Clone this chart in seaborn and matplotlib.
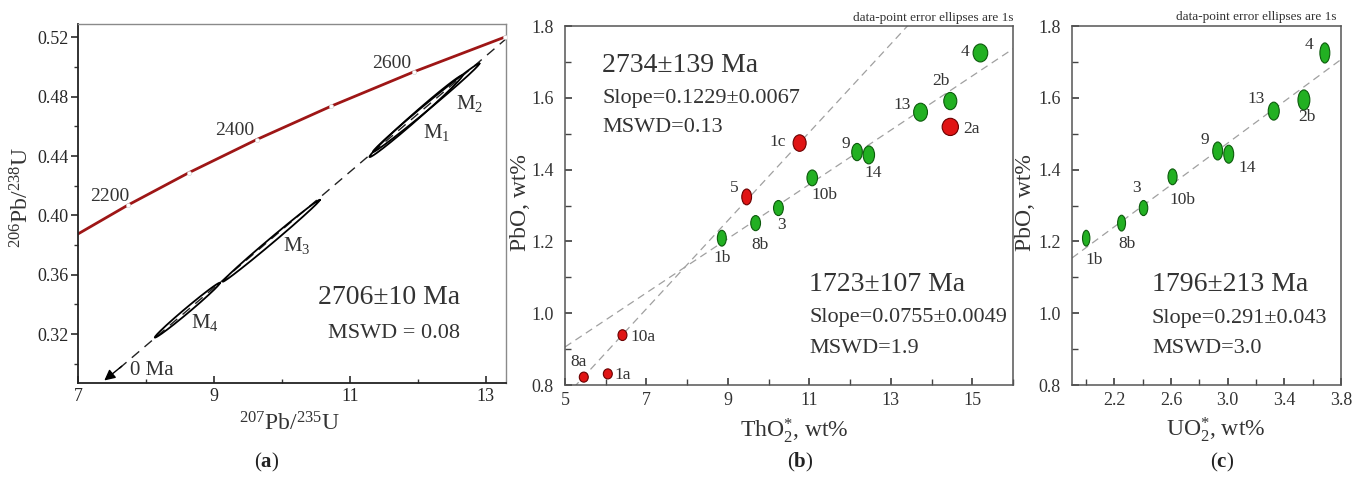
import numpy as np
import pandas as pd
import seaborn as sns
import matplotlib.pyplot as plt
from matplotlib.patches import Ellipse
from matplotlib.ticker import FixedLocator, FormatStrFormatter

# ---- (a) concordia diagram ----
conc_age = [2100, 2200, 2300, 2400, 2500, 2600, 2700, 2750]
conc_x = [6.910, 7.729, 8.633, 9.630, 10.730, 11.944, 13.283, 14.004]
conc_y = [0.3851, 0.4068, 0.4288, 0.4511, 0.4737, 0.4968, 0.5202, 0.5320]
conc_labels = ["2200", "2400", "2600"]
conc_label_x = [7.46, 9.31, 11.62]
conc_label_y = [0.413, 0.4575, 0.5025]

# lower / upper intercepts of the discordia (0 Ma and 2706 Ma)
disc_x = [0.0, 13.367]
disc_y = [0.0, 0.5216]

# analyses M1..M4 : centre, 1s errors, error correlation
m_names = ["M$_1$", "M$_2$", "M$_3$", "M$_4$"]
m_x = [11.975, 12.125, 9.845, 8.61]
m_y = [0.4669, 0.4726, 0.3829, 0.3361]
m_sx = [0.685, 0.785, 0.715, 0.48]
m_sy = [0.0276, 0.0299, 0.0276, 0.0185]
m_rho = [0.9935, 0.996, 0.9968, 0.993]
m_lab_x = [12.28, 12.76, 10.22, 8.87]
m_lab_y = [0.456, 0.4756, 0.380, 0.328]

# ---- (b) PbO vs ThO2* ----
b_labels = ["8a", "1a", "10a", "1b", "8b", "5", "3", "10b", "1c", "9", "14", "13", "2b", "2a", "4"]
b_tho2 = [5.46, 6.05, 6.41, 8.85, 9.68, 9.46, 10.24, 11.07, 10.76, 12.17, 12.46, 13.73, 14.46, 14.46, 15.20]
b_pbo = [0.822, 0.831, 0.939, 1.209, 1.251, 1.324, 1.293, 1.377, 1.474, 1.449, 1.441, 1.560, 1.591, 1.519, 1.725]
b_sx = [0.11, 0.11, 0.11, 0.11, 0.12, 0.12, 0.12, 0.13, 0.16, 0.13, 0.14, 0.17, 0.16, 0.20, 0.18]
b_sy = [0.014, 0.014, 0.015, 0.022, 0.021, 0.022, 0.021, 0.022, 0.023, 0.024, 0.025, 0.025, 0.024, 0.024, 0.025]
b_group = ["old", "old", "old", "young", "young", "old", "young", "young", "old", "young", "young", "young", "young", "old", "young"]
b_dx = [-3.5, 11, 14.5, 0, 3, -9, 2, 9, -16, -8, 3, -13, -6.5, 15, -11]
b_dy = [11, -1, -1.5, -14.5, -16, 6.5, -12, -12, 1, 6, -13, 5, 14.4, -1.5, 1]

# isochron lines (slope, intercept)
iso_old = (0.1229, 0.1523)
iso_young = (0.0755, 0.5285)

# ---- (c) PbO vs UO2* ----
c_labels = ["1b", "8b", "3", "10b", "9", "14", "13", "2b", "4"]
c_uo2 = [2.00, 2.25, 2.405, 2.61, 2.929, 3.007, 3.325, 3.538, 3.686]
c_pbo = [1.209, 1.251, 1.293, 1.380, 1.452, 1.443, 1.563, 1.594, 1.725]
c_sx = [0.026, 0.028, 0.030, 0.032, 0.035, 0.035, 0.039, 0.042, 0.035]
c_sy = [0.022, 0.022, 0.021, 0.022, 0.025, 0.025, 0.025, 0.028, 0.028]
c_dx = [6, 3.6, -5, 7, -9, 13, -13, 2, -11.5]
c_dy = [-16, -15, 14.4, -17, 8, -10, 8.6, -12, 5.8]
iso_c = (0.291, 0.601)

sns.set_theme(style="ticks")
plt.rcParams["font.family"] = ["Liberation Serif", "DejaVu Serif"]
plt.rcParams["mathtext.fontset"] = "custom"
plt.rcParams["mathtext.rm"] = "Liberation Serif"
plt.rcParams["mathtext.it"] = "Liberation Serif:italic"
plt.rcParams["mathtext.bf"] = "Liberation Serif:bold"
plt.rcParams["text.color"] = "#333333"

GREEN, GREEN_E = "#22b022", "#0c5a0c"
RED, RED_E = "#e01414", "#6a0000"
TXT = "#333333"

fig = plt.figure(figsize=(13.57, 4.84), dpi=100)
ax_a = fig.add_axes([0.0575, 0.2087, 0.3154, 0.7417])
ax_b = fig.add_axes([0.4164, 0.2045, 0.3301, 0.7417])
ax_c = fig.add_axes([0.7900, 0.2045, 0.1982, 0.7417])


def ellipse_outline(cx, cy, sx, sy, rho, n=200):
    cov = np.array([[sx * sx, rho * sx * sy], [rho * sx * sy, sy * sy]])
    L = np.linalg.cholesky(cov)
    t = np.linspace(0, 2 * np.pi, n)
    pts = L @ np.vstack([np.cos(t), np.sin(t)])
    return cx + pts[0], cy + pts[1]


# ---------------- panel a ----------------
ax = ax_a
conc = pd.DataFrame({"x": conc_x, "y": conc_y})
sns.lineplot(data=conc, x="x", y="y", sort=False, color="#9e1616", lw=2.0, ax=ax)
mk = [i for i, a in enumerate(conc_age) if 2200 <= a <= 2700]
ax.plot([conc_x[i] for i in mk], [conc_y[i] for i in mk], "o", ms=3, mfc="white",
        mec="#d0d0d0", mew=0.4, zorder=3)
for t, x, y in zip(conc_labels, conc_label_x, conc_label_y):
    ax.text(x, y, t, fontsize=14, ha="center", va="center", color=TXT)

slope = disc_y[1] / disc_x[1]
ylo, yhi = 0.287, 0.529
x_tip = ylo / slope
xs = np.array([x_tip + 0.25, 13.6])
ax.plot(xs, slope * xs, color="#222222", lw=1.0, dashes=(7, 5), zorder=2)
ax.annotate("", xy=(x_tip, ylo + 0.0005), xytext=(x_tip + 0.32, slope * (x_tip + 0.32)),
            arrowprops=dict(arrowstyle="-|>", color="black", lw=1.0, mutation_scale=16),
            annotation_clip=False)
ax.text(8.09, 0.2955, "0 Ma", fontsize=15, ha="center", va="center", color=TXT)

for i in range(len(m_x)):
    ex, ey = ellipse_outline(m_x[i], m_y[i], m_sx[i], m_sy[i], m_rho[i])
    ax.plot(ex, ey, color="black", lw=1.3, zorder=4)
    ax.text(m_lab_x[i], m_lab_y[i], m_names[i], fontsize=15, ha="center", va="center", color=TXT)

ax.text(0.727, 0.237, "2706±10 Ma", transform=ax.transAxes, fontsize=20, ha="center", va="center")
ax.text(0.738, 0.139, "MSWD = 0.08", transform=ax.transAxes, fontsize=16, ha="center", va="center")

ax.set_xlim(7, 13.3)
ax.set_ylim(ylo, yhi)
ax.xaxis.set_major_locator(FixedLocator([7, 9, 11, 13]))
ax.xaxis.set_minor_locator(FixedLocator([8, 10, 12]))
ax.yaxis.set_major_locator(FixedLocator([0.32, 0.36, 0.40, 0.44, 0.48, 0.52]))
ax.yaxis.set_minor_locator(FixedLocator([0.30, 0.34, 0.38, 0.42, 0.46, 0.50]))
ax.yaxis.set_major_formatter(FormatStrFormatter("%.2f"))
ax.tick_params(axis="x", which="both", direction="in", labelsize=13, length=5, color="#333333")
ax.tick_params(axis="y", which="both", direction="out", labelsize=13, length=5, pad=1.5,
               color="#333333")
ax.tick_params(which="minor", length=3)
for s in ["left", "bottom"]:
    ax.spines[s].set_color("#222222")
    ax.spines[s].set_linewidth(1.3)
for s in ["top", "right"]:
    ax.spines[s].set_visible(True)
    ax.spines[s].set_color("#8a8a8a")
    ax.spines[s].set_linewidth(1.0)
ax.set_xlabel("$^{207}$Pb/$^{235}$U", fontsize=17, color=TXT)
ax.set_ylabel("$^{206}$Pb/$^{238}$U", fontsize=17, color=TXT)
ax.xaxis.set_label_coords(0.495, -0.083)
ax.yaxis.set_label_coords(-0.104, 0.518)


def style_pbo_axes(ax):
    ax.set_ylim(0.8, 1.8)
    ax.yaxis.set_major_locator(FixedLocator([0.8, 1.0, 1.2, 1.4, 1.6, 1.8]))
    ax.yaxis.set_minor_locator(FixedLocator([0.9, 1.1, 1.3, 1.5, 1.7]))
    ax.yaxis.set_major_formatter(FormatStrFormatter("%.1f"))
    ax.tick_params(which="both", direction="in", labelsize=13, length=5, color="#444444", labelcolor=TXT)
    ax.tick_params(axis="y", which="major", pad=8)
    ax.tick_params(axis="x", which="major", pad=5)
    ax.tick_params(which="minor", length=4)
    for s in ["left", "bottom", "top", "right"]:
        ax.spines[s].set_visible(True)
        ax.spines[s].set_color("#555555")
        ax.spines[s].set_linewidth(1.1)
    ax.set_ylabel("PbO, wt%", fontsize=17, color=TXT)


def draw_iso(ax, params, xlim):
    xx = np.array(xlim)
    line = pd.DataFrame({"x": xx, "y": params[0] * xx + params[1]})
    sns.lineplot(data=line, x="x", y="y", color="#a0a0a0", lw=0.9, dashes=False, ax=ax,
                 linestyle=(0, (6, 4)), zorder=1)


# ---------------- panel b ----------------
ax = ax_b
b_xlim = (5, 16)
draw_iso(ax, iso_old, b_xlim)
draw_iso(ax, iso_young, b_xlim)
for i in range(len(b_labels)):
    fc, ec = (RED, RED_E) if b_group[i] == "old" else (GREEN, GREEN_E)
    ax.add_patch(Ellipse((b_tho2[i], b_pbo[i]), 2 * b_sx[i], 2 * b_sy[i], facecolor=fc,
                         edgecolor=ec, lw=0.8, zorder=3))
    ax.annotate(b_labels[i], (b_tho2[i], b_pbo[i]), xytext=(b_dx[i], b_dy[i]),
                textcoords="offset points", fontsize=12.5, ha="center", va="center", color=TXT)
ax.set_xlim(*b_xlim)
ax.xaxis.set_major_locator(FixedLocator([5, 7, 9, 11, 13, 15]))
ax.xaxis.set_minor_locator(FixedLocator([6, 8, 10, 12, 14, 16]))
style_pbo_axes(ax)
ax.set_xlabel("ThO$_2^{*}$, wt%", fontsize=17, color=TXT)
ax.xaxis.set_label_coords(0.511, -0.087)
ax.yaxis.set_label_coords(-0.076, 0.507)
ax.text(0.083, 0.891, "2734±139 Ma", transform=ax.transAxes, fontsize=20, va="center")
ax.text(0.083, 0.799, "Slope=0.1229±0.0067", transform=ax.transAxes, fontsize=16, va="center")
ax.text(0.083, 0.716, "MSWD=0.13", transform=ax.transAxes, fontsize=16, va="center")
ax.text(0.545, 0.279, "1723±107 Ma", transform=ax.transAxes, fontsize=20, va="center")
ax.text(0.545, 0.187, "Slope=0.0755±0.0049", transform=ax.transAxes, fontsize=16, va="center")
ax.text(0.545, 0.103, "MSWD=1.9", transform=ax.transAxes, fontsize=16, va="center")
ax.text(1.0, 1.022, "data-point error ellipses are 1s", transform=ax.transAxes,
        fontsize=9.5, ha="right", va="center", color=TXT)

# ---------------- panel c ----------------
ax = ax_c
c_xlim = (1.9, 3.8)
draw_iso(ax, iso_c, c_xlim)
for i in range(len(c_labels)):
    ax.add_patch(Ellipse((c_uo2[i], c_pbo[i]), 2 * c_sx[i], 2 * c_sy[i], facecolor=GREEN,
                         edgecolor=GREEN_E, lw=0.8, zorder=3))
    ax.annotate(c_labels[i], (c_uo2[i], c_pbo[i]), xytext=(c_dx[i], c_dy[i]),
                textcoords="offset points", fontsize=12.5, ha="center", va="center", color=TXT)
ax.set_xlim(*c_xlim)
ax.xaxis.set_major_locator(FixedLocator([2.2, 2.6, 3.0, 3.4, 3.8]))
ax.xaxis.set_minor_locator(FixedLocator([2.0, 2.4, 2.8, 3.2, 3.6]))
ax.xaxis.set_major_formatter(FormatStrFormatter("%.1f"))
style_pbo_axes(ax)
ax.set_xlabel("UO$_2^{*}$, wt%", fontsize=17, color=TXT)
ax.xaxis.set_label_coords(0.535, -0.084)
ax.yaxis.set_label_coords(-0.135, 0.507)
ax.text(0.297, 0.279, "1796±213 Ma", transform=ax.transAxes, fontsize=20, va="center")
ax.text(0.297, 0.184, "Slope=0.291±0.043", transform=ax.transAxes, fontsize=16, va="center")
ax.text(0.297, 0.103, "MSWD=3.0", transform=ax.transAxes, fontsize=16, va="center")
ax.text(0.985, 1.025, "data-point error ellipses are 1s", transform=ax.transAxes,
        fontsize=9.5, ha="right", va="center", color=TXT)

# panel captions
for xc, letter in [(267, "a"), (800, "b"), (1222, "c")]:
    fig.text(xc / 1357, 1 - 462 / 484, "($\\mathbf{%s}$)" % letter, fontsize=15,
             ha="center", va="center", color="#222222")

fig.savefig("out.png", dpi=100)
